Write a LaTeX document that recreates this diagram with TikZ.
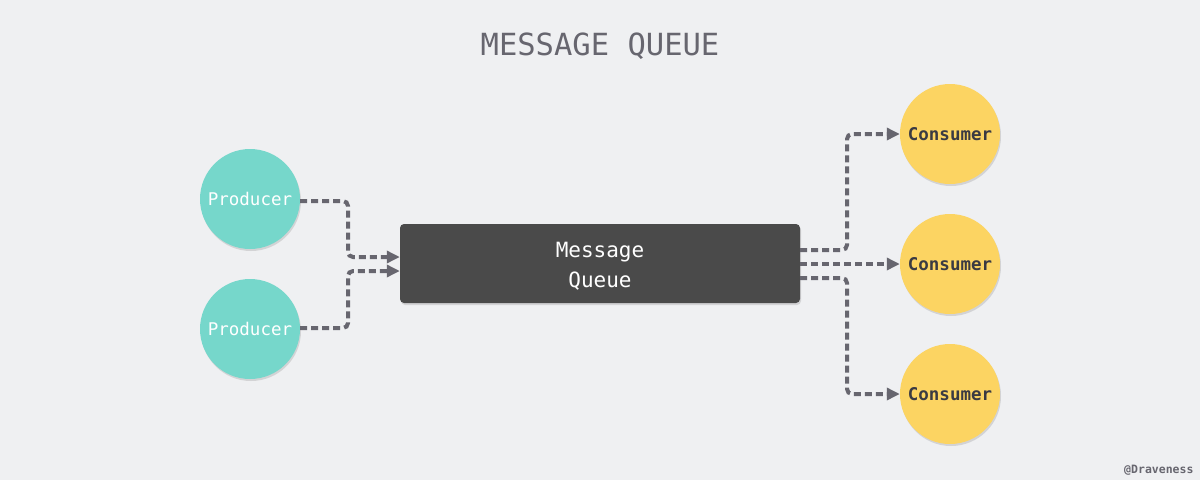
\documentclass[tikz,border=0pt]{standalone}
\usepackage{fontspec}
\newfontfamily\mono{DejaVu Sans Mono}
\usetikzlibrary{arrows.meta,shadows}
\definecolor{bg}{HTML}{EFF0F2}
\definecolor{prod}{HTML}{76D7CB}
\definecolor{cons}{HTML}{FCD462}
\definecolor{qbox}{HTML}{4A4A4A}
\definecolor{lineg}{HTML}{67666F}
\definecolor{ctext}{HTML}{3A3A42}
\begin{document}
\begin{tikzpicture}[x=1pt,y=-1pt,
  shade/.style={drop shadow={opacity=0.25,shadow xshift=1pt,shadow yshift=-2pt}},
  producer/.style={circle,fill=prod,minimum size=100pt,inner sep=0pt,shade,
    font=\mono\fontsize{17.5}{17.5}\selectfont,text=white},
  consumer/.style={circle,fill=cons,minimum size=100pt,inner sep=0pt,shade,
    font=\mono\bfseries\fontsize{17.5}{17.5}\selectfont,text=ctext},
  queue/.style={rectangle,rounded corners=4pt,fill=qbox,minimum width=400pt,minimum height=79pt,
    shade,font=\mono\fontsize{21}{29}\selectfont,text=white,align=center},
  flow/.style={draw=lineg,line width=4pt,dash pattern=on 7pt off 4pt,rounded corners=5pt,
    -{Triangle[length=13pt,width=12pt]}}
]
\fill[bg] (0,0) rectangle (1200,480);
\useasboundingbox (0,0) rectangle (1200,480);
\node[font=\mono\fontsize{30.5}{30.5}\selectfont,text=lineg] (title) at (600,46) {MESSAGE QUEUE};
\node[producer] (p1) at (250,199) {Producer};
\node[producer] (p2) at (250,329) {Producer};
\node[queue] (mq) at (600,263.5) {\raisebox{-2.5pt}[\height][\depth]{\parbox{200pt}{\centering Message\\[1pt]Queue}}};
\node[consumer] (c1) at (950,134) {Consumer};
\node[consumer] (c2) at (950,264) {Consumer};
\node[consumer] (c3) at (950,394) {Consumer};
\draw[flow] ([yshift=-2pt]p1.east) -- (348,201) |- ([yshift=6.5pt]mq.west);
\draw[flow] ([yshift=1pt]p2.east) -- (348,328) |- ([yshift=-7.5pt]mq.west);
\draw[flow] ([yshift=13.5pt]mq.east) -- (847,250) |- (c1.west);
\draw[flow] ([yshift=-0.5pt]mq.east) -- (c2.west);
\draw[flow] ([yshift=-14.5pt]mq.east) -- (847,278) |- (c3.west);
\node[font=\mono\bfseries\fontsize{11.5}{11.5}\selectfont,text=lineg,anchor=east] (credit) at (1197,470) {@Draveness};
\end{tikzpicture}
\end{document}
